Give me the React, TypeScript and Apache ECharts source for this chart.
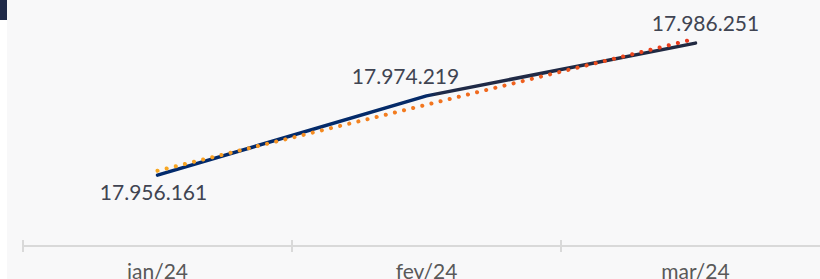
import React, { useEffect, useRef } from "react";
import * as echarts from "echarts";

const categories = ["jan/24", "fev/24", "mar/24"];
const values = [17956161, 17974219, 17986251];
const trendValues = [17957165, 17972210, 17987255];
const valueLabels = ["17.956.161", "17.974.219", "17.986.251"];

const FONT = "Lato";

export default function App() {
  const ref = useRef<HTMLDivElement>(null);
  useEffect(() => {
    document.body.style.margin = "0";
    const chart = echarts.init(ref.current!, undefined, { renderer: "svg" });
    const labelPos: any[] = [
      { position: "bottom", offset: [-4, 1] },
      { position: "top", offset: [-21, -5] },
      { position: "top", offset: [10, -5] },
    ];
    chart.setOption({
      animation: false,
      backgroundColor: "#ffffff",
      graphic: [
        { type: "rect", z: -10, silent: true, shape: { x: 7, y: 0, width: 813, height: 279 }, style: { fill: "#f8f8f9" } },
        { type: "rect", z: -10, silent: true, shape: { x: 0, y: 0, width: 7, height: 20 }, style: { fill: "#1f2a48" } },
      ],
      grid: { left: 23, width: 807, top: 10, bottom: 33, containLabel: false, outerBoundsMode: "none" },
      xAxis: [
        {
          type: "category",
          data: categories,
          boundaryGap: true,
          axisLine: { show: true, lineStyle: { color: "#d9d9d9", width: 2 } },
          axisTick: { show: true, length: 6, lineStyle: { color: "#d9d9d9", width: 2 } },
          axisLabel: { color: "#595959", fontFamily: FONT, fontSize: 21, margin: 14 },
          splitLine: { show: false },
        },
        {
          type: "category",
          data: categories,
          position: "bottom",
          boundaryGap: true,
          axisLine: { show: false },
          axisTick: { show: true, inside: true, length: 6, lineStyle: { color: "#d9d9d9", width: 2 } },
          axisLabel: { show: false },
          splitLine: { show: false },
        },
      ],
      yAxis: {
        type: "value",
        min: 17940000,
        max: 17993800,
        show: false,
        splitLine: { show: false },
      },
      series: [
        {
          type: "line",
          data: trendValues,
          symbol: "none",
          z: 3,
          lineStyle: {
            width: 4,
            type: [0.1, 9.3],
            cap: "round",
            color: new echarts.graphic.LinearGradient(0, 0, 1, 0, [
              { offset: 0, color: "#f7a823" },
              { offset: 0.5, color: "#f2761f" },
              { offset: 1, color: "#e8361c" },
            ]),
          },
          silent: true,
        },
        {
          type: "line",
          data: values.map((v, i) => ({
            value: v,
            label: {
              show: true,
              formatter: valueLabels[i],
              ...labelPos[i],
            },
          })),
          symbol: "circle",
          symbolSize: 0.1,
          showSymbol: true,
          itemStyle: { color: "rgba(0,0,0,0)" },
          z: 2,
          label: { show: true, color: "#404452", fontFamily: FONT, fontSize: 21 },
          lineStyle: {
            width: 3.5,
            cap: "round",
            color: new echarts.graphic.LinearGradient(0, 0, 1, 0, [
              { offset: 0, color: "#022a6c" },
              { offset: 0.5, color: "#052b69" },
              { offset: 0.52, color: "#1f2a48" },
              { offset: 1, color: "#222a42" },
            ]),
          },
        },
      ],
    });
    return () => chart.dispose();
  }, []);
  return <div ref={ref} style={{ width: 820, height: 279 }} />;
}
